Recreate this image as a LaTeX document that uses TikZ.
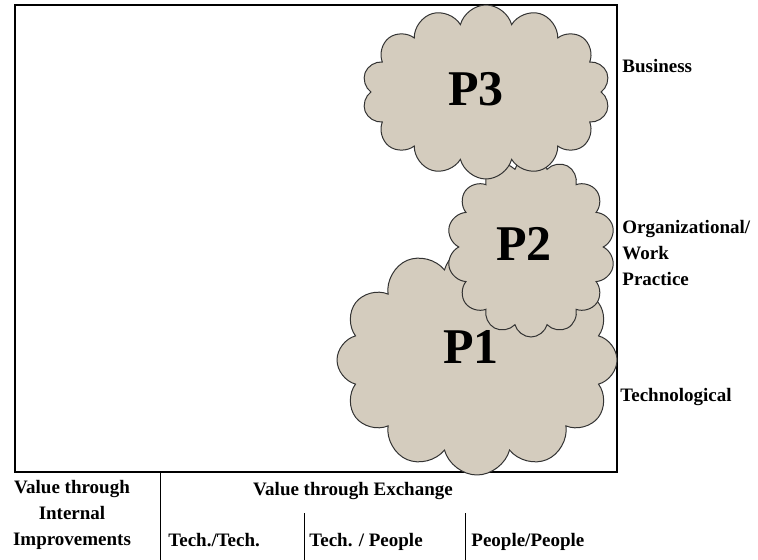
\documentclass[tikz,border=0pt]{standalone}
\usepackage{fontspec}
\setmainfont{Liberation Serif}
\usepackage{tikz}
\usetikzlibrary{shapes.symbols}
\definecolor{cloudfill}{RGB}{212,204,190}

\begin{document}
\begin{tikzpicture}[x=0.5pt, y=-0.5pt,
        puff/.style={cloud, draw=black!80, fill=cloudfill, line width=0.5pt, inner sep=0pt},
        plabel/.style={font=\fontsize{25}{25}\selectfont\bfseries},
        axislabel/.style={font=\fontsize{9.5}{13}\selectfont\bfseries, inner sep=0pt}]
        \useasboundingbox (0,0) rectangle (758,560);
        \draw[line width=1pt] (15,5) rectangle (617,472);
        % clouds
        \node[puff, cloud puffs=12, minimum width=140pt, minimum height=115pt] (cloudP1) at (477,360) {};
        \node[puff, cloud puffs=14, minimum width=84pt, minimum height=90pt] (cloudP2) at (531,247) {};
        \node[puff, cloud puffs=14, minimum width=124pt, minimum height=87pt] (cloudP3) at (486,92) {};
        \node[plabel] (P1) at (471,347) {P1};
        \node[plabel] (P2) at (524,244) {P2};
        \node[plabel] (P3) at (476,89) {P3};
        % levels
        \node[axislabel, anchor=west] (business) at (622,66) {Business};
        \node[axislabel, anchor=west, align=left] (orgwork) at (622,253) {Organizational/\\Work\\Practice};
        \node[axislabel, anchor=west] (techno) at (620,397) {Technological};
        % value axis
        \draw (160,472) -- (160,560);
        \draw (304,513) -- (304,560);
        \draw (465,513) -- (465,560);
        \node[axislabel, align=center] (internal) at (72,515) {Value through\\Internal\\Improvements};
        \node[axislabel] (exchange) at (353,491) {Value through Exchange};
        \node[axislabel, anchor=base west] (techtech) at (168,546) {Tech./Tech.};
        \node[axislabel, anchor=base west] (techpeople) at (309,546) {Tech. / People};
        \node[axislabel, anchor=base west] (peoplepeople) at (471,546) {People/People};
    \end{tikzpicture}
\end{document}
